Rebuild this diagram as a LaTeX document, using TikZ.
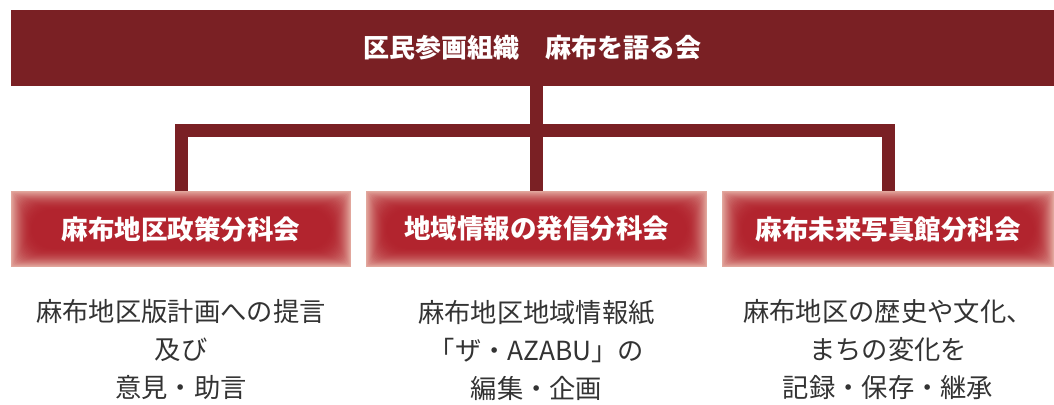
\documentclass[tikz,border=0pt]{standalone}
\usepackage{fontspec}
\newfontfamily\jpfont{Noto Sans CJK JP}
\definecolor{barred}{RGB}{122,32,36}
\definecolor{glowin}{RGB}{178,36,46}
\definecolor{glowout}{RGB}{226,168,158}
\definecolor{desctext}{RGB}{51,51,51}

\begin{document}
\begin{tikzpicture}[x=1pt, y=1pt,
    head/.style = {fill=barred, text=white, minimum width=1043pt, minimum height=75.7pt, inner sep=0pt,
        font=\jpfont\bfseries\fontsize{26}{30}\selectfont},
    sub/.style = {fill=glowout, text=white, minimum height=76pt, inner sep=0pt,
        font=\jpfont\bfseries\fontsize{26.5}{30}\selectfont,
        path picture={
            \foreach \i [evaluate=\i as \p using 100*(1-(1-\i/22)^2)] in {0,...,22}
                \fill[glowin!\p!glowout, rounded corners=\i pt]
                    ([shift={(\i pt,-0.9*\i pt)}]path picture bounding box.north west) rectangle
                    ([shift={(-\i pt,0.9*\i pt)}]path picture bounding box.south east);
        }},
    desc/.style = {text=desctext, align=center, font=\jpfont\fontsize{26.3}{38}\selectfont}]
    \useasboundingbox (0,0) rectangle (1054,-404);
    \node[head] (top) at (532.5,-47.8) {区民参画組織　麻布を語る会};
    \node[sub, minimum width=340pt] (s1) at (181,-229) {麻布地区政策分科会};
    \node[sub, minimum width=341pt] (s2) at (536.5,-229) {地域情報の発信分科会};
    \node[sub, minimum width=332pt] (s3) at (888,-229) {麻布未来写真館分科会};
    \node[desc] (d1) at (181,-350) {麻布地区版計画への提言\\及び\\意見・助言};
    \node[desc] (d2) at (536.5,-350) {麻布地区地域情報紙\\「ザ・AZABU」の\\編集・企画};
    \node[desc] (d3) at (888,-350) {麻布地区の歴史や文化、\\まちの変化を\\記録・保存・継承};
    \coordinate (bus) at (536.5,-130.8);
    \path[draw, barred, line width=13pt]
        (s2.north |- top.south) -- (s2.north)
        (s1.north) |- (bus) -| (s3.north);
\end{tikzpicture}
\end{document}
